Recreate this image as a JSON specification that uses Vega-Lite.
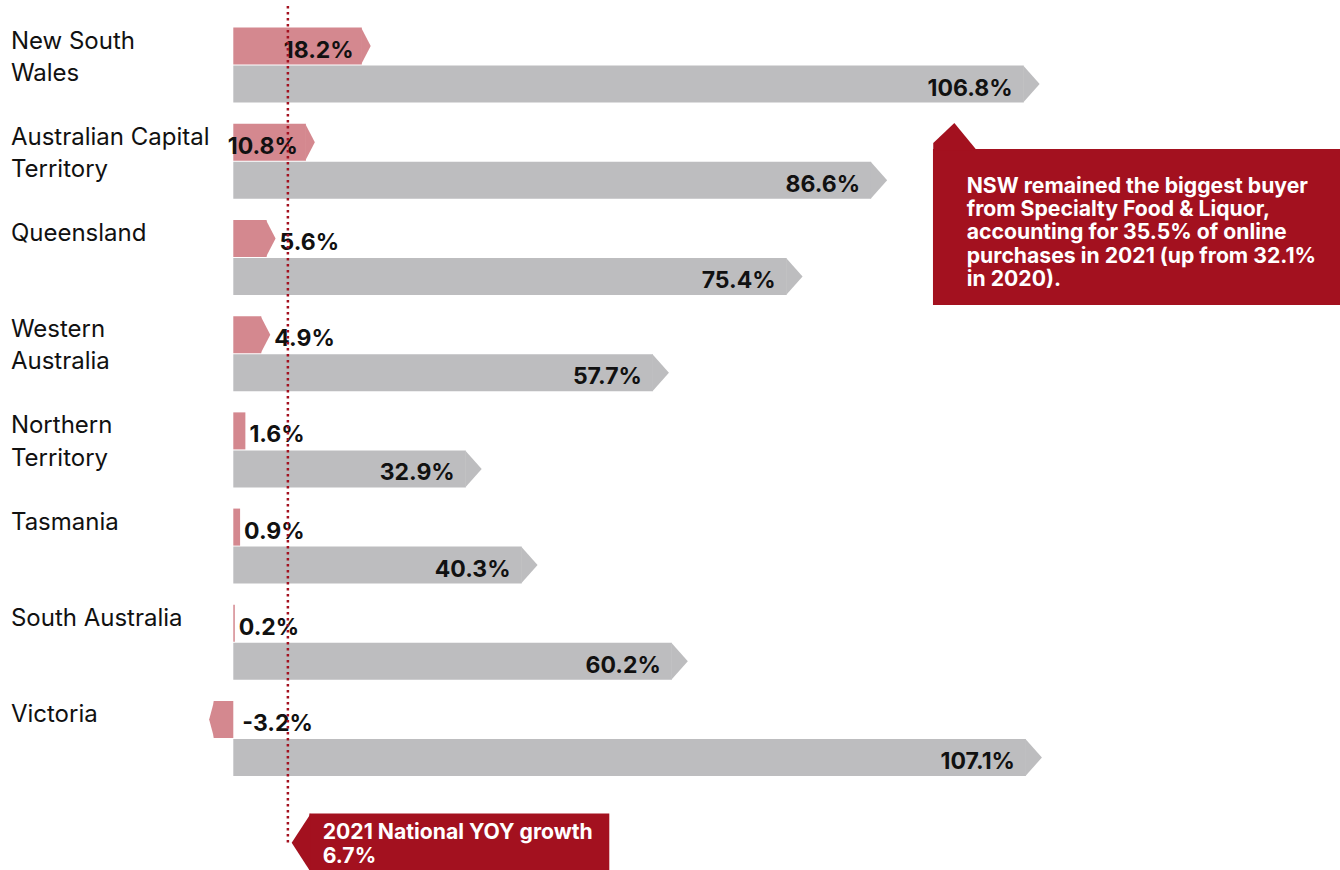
{
  "$schema": "https://vega.github.io/schema/vega-lite/v6.json",
  "width": 1140,
  "height": 769.6,
  "autosize": {"type": "none"},
  "padding": {"left": 200, "top": 17, "right": 0, "bottom": 83.4},
  "background": "white",
  "config": {
    "view": {"stroke": null},
    "font": "Inter",
    "locale": {"number": {"decimal": ".", "thousands": ",", "grouping": [3], "currency": ["$", ""], "minus": "-"}}
  },
  "datasets": {
    "growth": [
      {"region": "New South Wales", "series": "2021", "value": 0.182},
      {"region": "New South Wales", "series": "2020", "value": 1.068},
      {"region": "Australian Capital Territory", "series": "2021", "value": 0.108},
      {"region": "Australian Capital Territory", "series": "2020", "value": 0.866},
      {"region": "Queensland", "series": "2021", "value": 0.056},
      {"region": "Queensland", "series": "2020", "value": 0.754},
      {"region": "Western Australia", "series": "2021", "value": 0.049},
      {"region": "Western Australia", "series": "2020", "value": 0.577},
      {"region": "Northern Territory", "series": "2021", "value": 0.016},
      {"region": "Northern Territory", "series": "2020", "value": 0.329},
      {"region": "Tasmania", "series": "2021", "value": 0.009},
      {"region": "Tasmania", "series": "2020", "value": 0.403},
      {"region": "South Australia", "series": "2021", "value": 0.002},
      {"region": "South Australia", "series": "2020", "value": 0.602},
      {"region": "Victoria", "series": "2021", "value": -0.032},
      {"region": "Victoria", "series": "2020", "value": 1.071}
    ]
  },
  "data": {"name": "growth"},
  "layer": [
    {
      "transform": [{"filter": "datum.series == '2020'"}],
      "mark": {"type": "bar", "color": "#bdbdbf", "xOffset": -16},
      "encoding": {
        "y": {"field": "region", "type": "nominal", "sort": null,
          "scale": {"domain": ["New South Wales", "Australian Capital Territory", "Queensland", "Western Australia", "Northern Territory", "Tasmania", "South Australia", "Victoria"], "paddingInner": 0.22, "paddingOuter": 0.11},
          "axis": {"title": null, "domain": false, "ticks": false, "tickSize": 0, "grid": false,
            "labelAlign": "left", "labelBaseline": "alphabetic", "labelPadding": 189.6, "labelOffset": -16.5,
            "labelFont": "Inter", "labelFontSize": 24, "labelColor": "#111111", "labelLineHeight": 32.3, "labelLimit": 0,
            "labelExpr": "datum.value == 'New South Wales' ? ['New South', 'Wales'] : datum.value == 'Australian Capital Territory' ? ['Australian Capital', 'Territory'] : datum.value == 'Western Australia' ? ['Western', 'Australia'] : datum.value == 'Northern Territory' ? ['Northern', 'Territory'] : datum.value"}},
        "yOffset": {"field": "series", "type": "nominal", "scale": {"domain": ["2021", "2020"], "paddingInner": 0.0263, "paddingOuter": 0}},
        "x": {"field": "value", "type": "quantitative", "scale": {"domain": [-0.0441, 1.4658], "nice": false, "zero": false}, "axis": null},
        "x2": {"datum": 0}
      }
    },
    {
      "transform": [{"filter": "datum.series == '2020'"}],
      "mark": {"type": "point", "shape": "M-0.89,-1 L0,0 L-0.89,1 Z", "size": 1369, "filled": true, "opacity": 1, "strokeWidth": 0, "color": "#bdbdbf"},
      "encoding": {
        "y": {"field": "region", "type": "nominal", "sort": null},
        "yOffset": {"field": "series", "type": "nominal"},
        "x": {"field": "value", "type": "quantitative"}
      }
    },
    {
      "transform": [{"filter": "datum.series == '2021' && datum.value >= 0.03"}],
      "mark": {"type": "bar", "color": "#d4888f", "xOffset": -9},
      "encoding": {
        "y": {"field": "region", "type": "nominal", "sort": null},
        "yOffset": {"field": "series", "type": "nominal"},
        "x": {"field": "value", "type": "quantitative"},
        "x2": {"datum": 0}
      }
    },
    {
      "transform": [{"filter": "datum.series == '2021' && datum.value >= 0.03"}],
      "mark": {"type": "point", "shape": "M-0.52,-1 L0,0 L-0.52,1 Z", "size": 1369, "filled": true, "opacity": 1, "strokeWidth": 0, "color": "#d4888f"},
      "encoding": {
        "y": {"field": "region", "type": "nominal", "sort": null},
        "yOffset": {"field": "series", "type": "nominal"},
        "x": {"field": "value", "type": "quantitative"}
      }
    },
    {
      "transform": [{"filter": "datum.series == '2021' && datum.value >= 0 && datum.value < 0.03"}],
      "mark": {"type": "bar", "color": "#d4888f"},
      "encoding": {
        "y": {"field": "region", "type": "nominal", "sort": null},
        "yOffset": {"field": "series", "type": "nominal"},
        "x": {"field": "value", "type": "quantitative"},
        "x2": {"datum": 0}
      }
    },
    {
      "transform": [{"filter": "datum.series == '2021' && datum.value < 0"}],
      "mark": {"type": "bar", "color": "#d4888f", "xOffset": 4.5},
      "encoding": {
        "y": {"field": "region", "type": "nominal", "sort": null},
        "yOffset": {"field": "series", "type": "nominal"},
        "x": {"field": "value", "type": "quantitative"},
        "x2": {"datum": 0}
      }
    },
    {
      "transform": [{"filter": "datum.series == '2021' && datum.value < 0"}],
      "mark": {"type": "point", "shape": "M0.27,-1 L0,0 L0.27,1 Z", "size": 1369, "filled": true, "opacity": 1, "strokeWidth": 0, "color": "#d4888f"},
      "encoding": {
        "y": {"field": "region", "type": "nominal", "sort": null},
        "yOffset": {"field": "series", "type": "nominal"},
        "x": {"field": "value", "type": "quantitative"}
      }
    },
    {
      "transform": [{"filter": "datum.series == '2020'"}],
      "mark": {"type": "text", "align": "right", "baseline": "alphabetic", "dx": -27, "dy": 11.5, "fontSize": 23, "fontWeight": "bold", "color": "#111111"},
      "encoding": {
        "y": {"field": "region", "type": "nominal", "sort": null},
        "yOffset": {"field": "series", "type": "nominal"},
        "x": {"field": "value", "type": "quantitative"},
        "text": {"field": "value", "type": "quantitative", "format": ".1%"}
      }
    },
    {
      "transform": [{"filter": "datum.series == '2021' && datum.value >= 0.08"}],
      "mark": {"type": "text", "align": "right", "baseline": "alphabetic", "dx": -17, "dy": 11.5, "fontSize": 23, "fontWeight": "bold", "color": "#111111"},
      "encoding": {
        "y": {"field": "region", "type": "nominal", "sort": null},
        "yOffset": {"field": "series", "type": "nominal"},
        "x": {"field": "value", "type": "quantitative"},
        "text": {"field": "value", "type": "quantitative", "format": ".1%"}
      }
    },
    {
      "transform": [{"filter": "datum.series == '2021' && datum.value >= 0 && datum.value < 0.08"}],
      "mark": {"type": "text", "align": "left", "baseline": "alphabetic", "dx": 4, "dy": 11.5, "fontSize": 23, "fontWeight": "bold", "color": "#111111"},
      "encoding": {
        "y": {"field": "region", "type": "nominal", "sort": null},
        "yOffset": {"field": "series", "type": "nominal"},
        "x": {"field": "value", "type": "quantitative"},
        "text": {"field": "value", "type": "quantitative", "format": ".1%"}
      }
    },
    {
      "transform": [{"filter": "datum.series == '2021' && datum.value < 0"}],
      "mark": {"type": "text", "align": "left", "baseline": "alphabetic", "dx": 9, "dy": 11.5, "fontSize": 23, "fontWeight": "bold", "color": "#111111"},
      "encoding": {
        "y": {"field": "region", "type": "nominal", "sort": null},
        "yOffset": {"field": "series", "type": "nominal"},
        "x": {"datum": 0, "type": "quantitative"},
        "text": {"field": "value", "type": "quantitative", "format": ".1%"}
      }
    },
    {
      "data": {"values": [{"national": 0.067}]},
      "mark": {"type": "rule", "color": "#a3111f", "strokeWidth": 2.5, "strokeDash": [2.4, 3.6], "xOffset": 4, "yOffset": -59.1, "y2Offset": 104.6},
      "encoding": {
        "x": {"field": "national", "type": "quantitative"},
        "y": {"datum": "New South Wales", "type": "nominal"},
        "y2": {"datum": "Victoria"}
      }
    },
    {
      "data": {"values": [{"note": "NSW"}]},
      "mark": {"type": "rect", "color": "#a3111f", "yOffset": -12.2, "y2Offset": 47.4},
      "encoding": {
        "x": {"datum": 0.9267, "type": "quantitative"},
        "x2": {"datum": 1.4658},
        "y": {"datum": "Australian Capital Territory", "type": "nominal"},
        "y2": {"datum": "Queensland"}
      }
    },
    {
      "data": {"values": [{"note": "NSW"}]},
      "mark": {"type": "point", "shape": "M-0.81,0.05 L-0.81,-0.23 L0,-1 L0.87,0.05 Z", "size": 2704, "filled": true, "opacity": 1, "strokeWidth": 0, "color": "#a3111f", "yOffset": -12.2},
      "encoding": {
        "x": {"datum": 0.955, "type": "quantitative"},
        "y": {"datum": "Australian Capital Territory", "type": "nominal"}
      }
    },
    {
      "data": {"values": [{"note": "NSW"}]},
      "mark": {"type": "text", "align": "left", "baseline": "alphabetic", "fontSize": 21.2, "fontWeight": "bold", "color": "white", "lineHeight": 23.3, "yOffset": 31.5,
        "text": ["NSW remained the biggest buyer", "from Specialty Food & Liquor,", "accounting for 35.5% of online", "purchases in 2021 (up from 32.1%", "in 2020)."]},
      "encoding": {
        "x": {"datum": 0.9714, "type": "quantitative"},
        "y": {"datum": "Australian Capital Territory", "type": "nominal"}
      }
    },
    {
      "data": {"values": [{"note": "national"}]},
      "mark": {"type": "rect", "color": "#a3111f", "yOffset": 74.9, "y2Offset": 140},
      "encoding": {
        "x": {"datum": 0.1007, "type": "quantitative"},
        "x2": {"datum": 0.498},
        "y": {"datum": "Victoria", "type": "nominal"},
        "y2": {"datum": "Victoria"}
      }
    },
    {
      "data": {"values": [{"note": "national"}]},
      "mark": {"type": "point", "shape": "M0.05,-1 L-0.6,0 L0.05,1 Z", "size": 3457, "filled": true, "opacity": 1, "strokeWidth": 0, "color": "#a3111f", "yOffset": 104.3},
      "encoding": {
        "x": {"datum": 0.1007, "type": "quantitative"},
        "y": {"datum": "Victoria", "type": "nominal"}
      }
    },
    {
      "data": {"values": [{"note": "national"}]},
      "mark": {"type": "text", "align": "left", "baseline": "alphabetic", "fontSize": 21.2, "fontWeight": "bold", "color": "white", "lineHeight": 23.4, "yOffset": 100.9,
        "text": ["2021 National YOY growth", "6.7%"]},
      "encoding": {
        "x": {"datum": 0.1184, "type": "quantitative"},
        "y": {"datum": "Victoria", "type": "nominal"}
      }
    }
  ]
}
